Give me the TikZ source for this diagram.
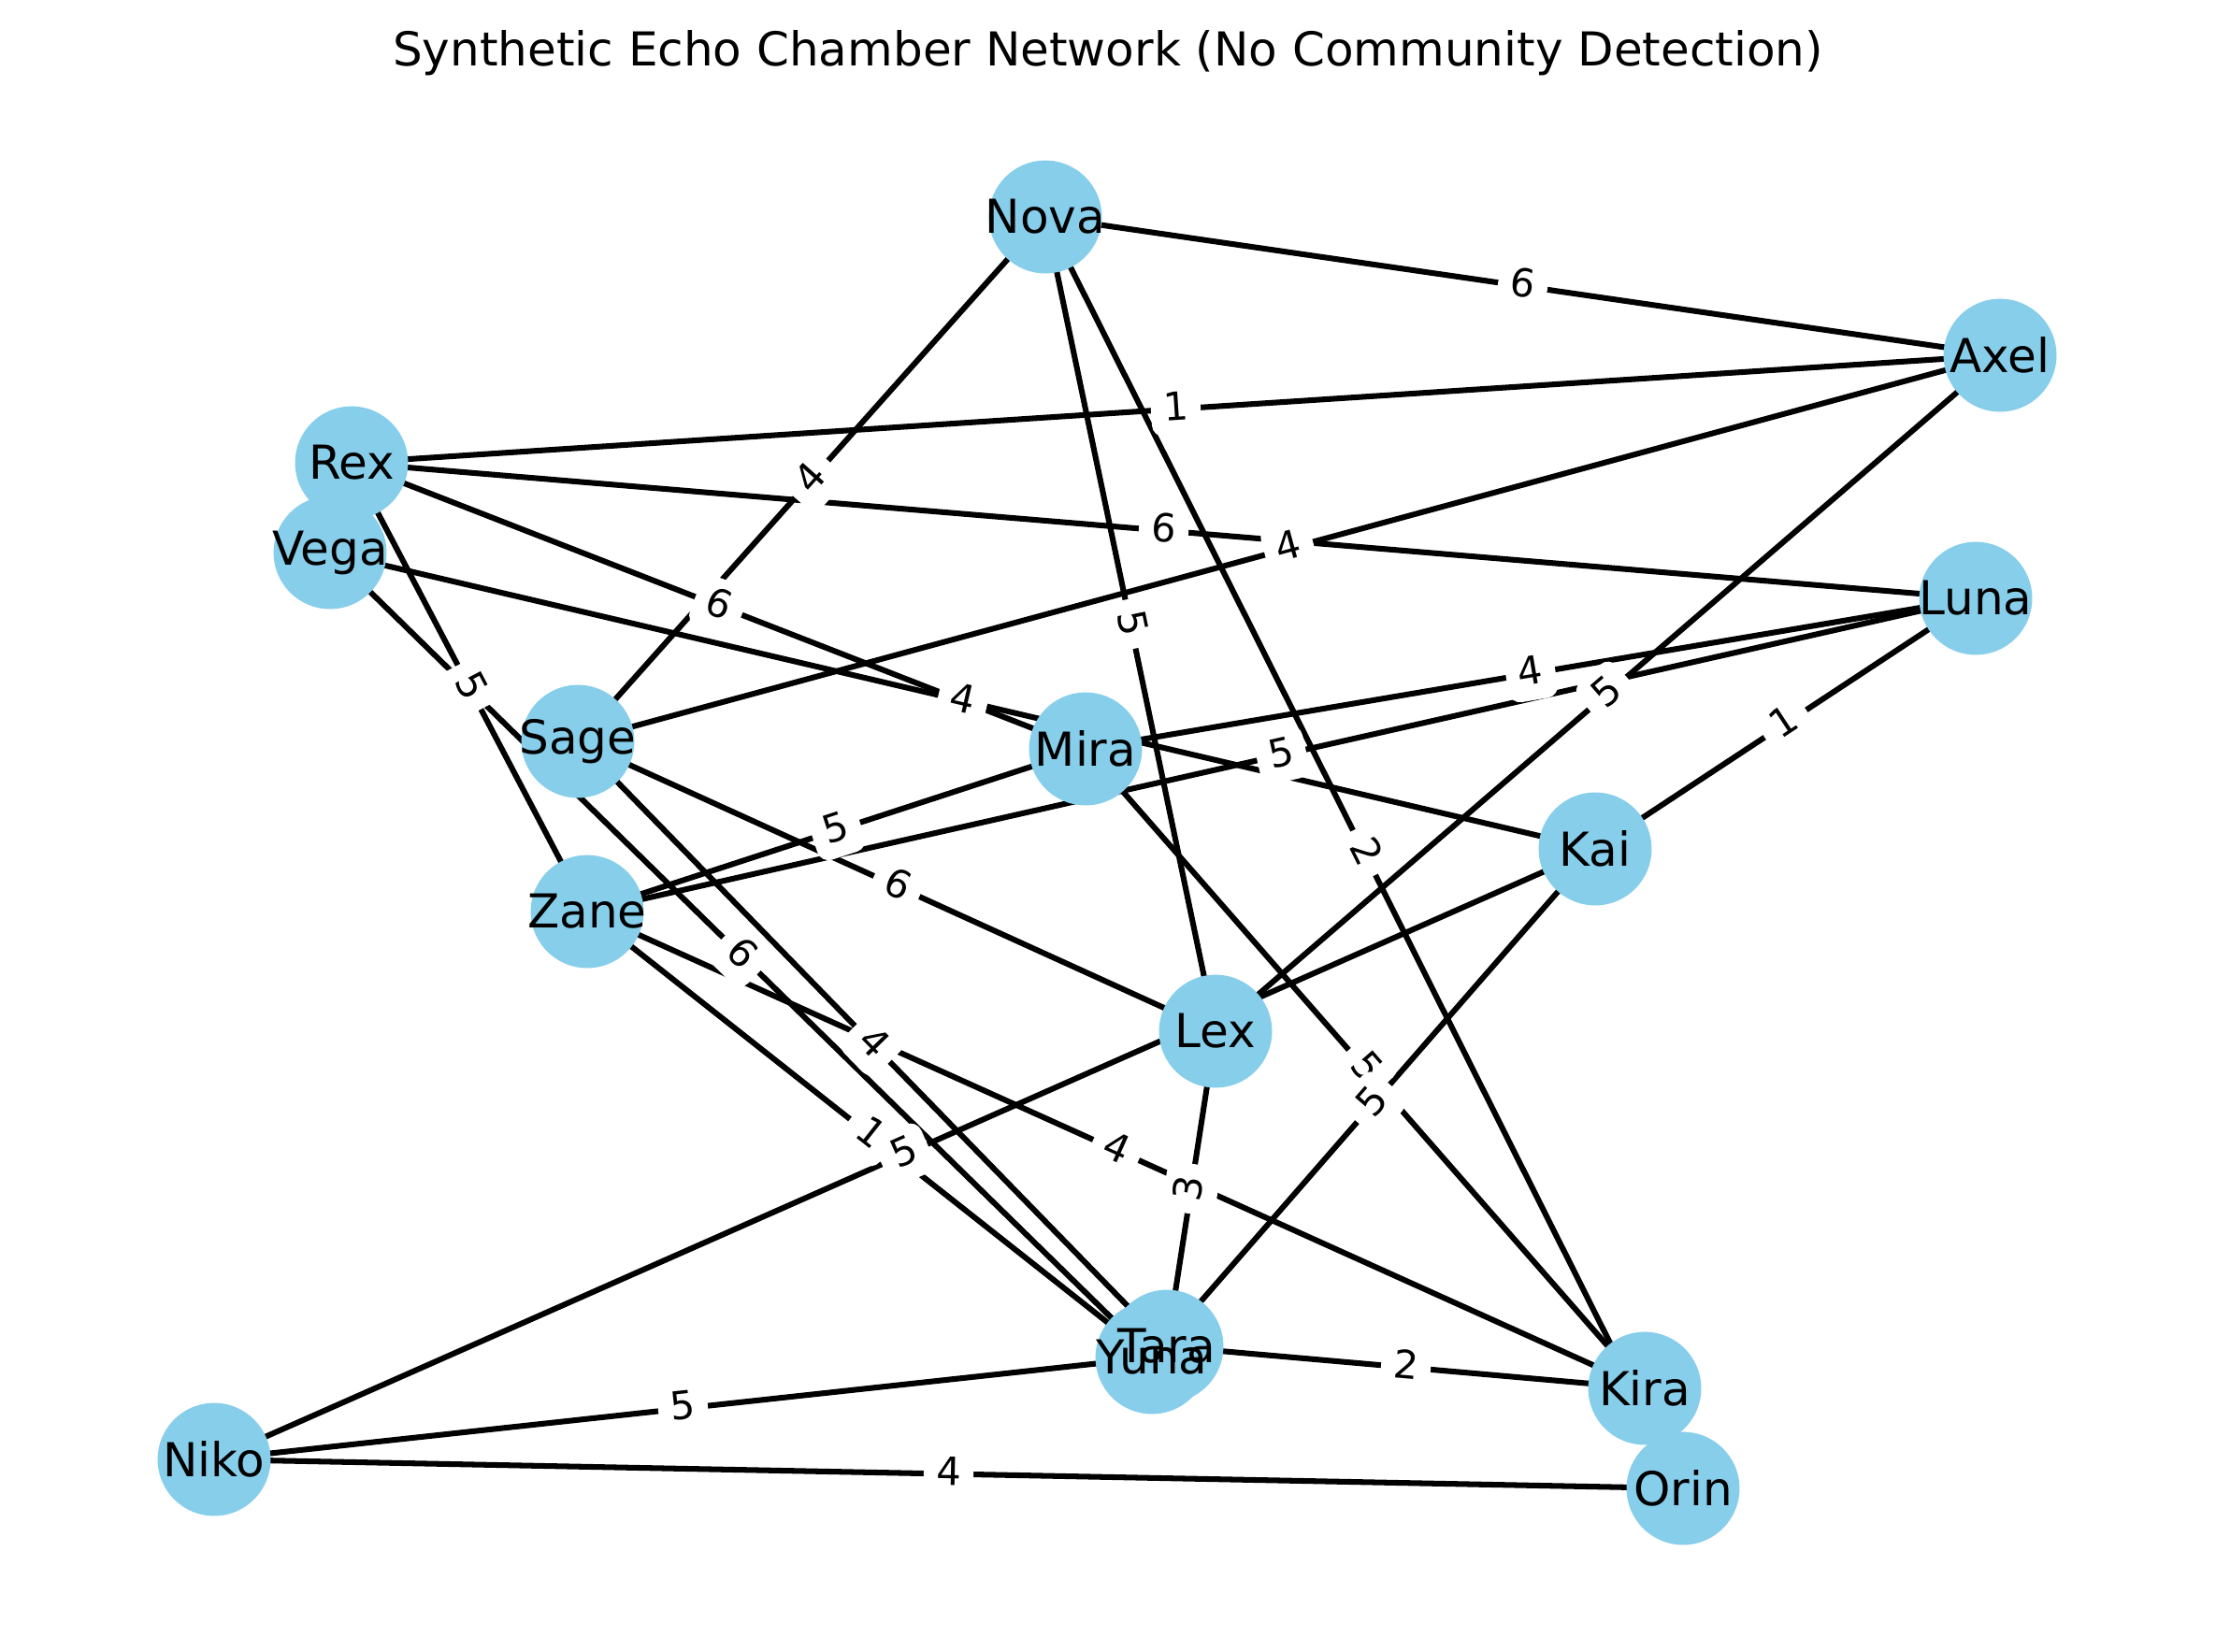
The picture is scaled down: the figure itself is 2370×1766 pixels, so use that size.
\documentclass[tikz,border=0pt]{standalone}
\usepackage{fontspec}
\setmainfont{DejaVu Sans}
\definecolor{nodeblue}{HTML}{87CEEB}
\pgfdeclarelayer{paperlayer}
\pgfdeclarelayer{edgelayer}
\pgfdeclarelayer{labellayer}
\pgfdeclarelayer{textlayer}
\pgfsetlayers{paperlayer,edgelayer,labellayer,main,textlayer}
\tikzset{
  person/.style={circle, fill=nodeblue, draw=none, minimum size=29pt, inner sep=0pt},
  nametext/.style={font=\fontsize{12}{14}\selectfont, text=black, inner sep=0pt},
  edgeline/.style={draw=black, line width=1.45pt},
  elabel/.style={fill=white, draw=none, rounded corners=3pt, inner xsep=3.2pt, inner ysep=2.4pt,
    text height=7.3pt, text depth=1.6pt, font=\fontsize{10}{12}\selectfont, text=black},
  titletext/.style={font=\fontsize{12}{14}\selectfont, text=black}
}
\newcommand\netedge[3]{%
  \begin{pgfonlayer}{edgelayer}\draw[edgeline] (#1.center) -- (#2.center);\end{pgfonlayer}%
  \begin{pgfonlayer}{labellayer}\path (#1.center) -- (#2.center) node[elabel, midway, sloped]{#3};\end{pgfonlayer}}
\newcommand\person[2]{%
  \node[person] (#1) at (#2) {};%
  \begin{pgfonlayer}{textlayer}\node[nametext] (#1-name) at (#1.center) {#1};\end{pgfonlayer}}
\begin{document}
\begin{tikzpicture}[x=0.24pt, y=-0.24pt]
\begin{pgfonlayer}{paperlayer}
\fill[white] (0,0) rectangle (2370,1766);
\end{pgfonlayer}
\path[use as bounding box] (0,0) rectangle (2370,1766);
\node[titletext] (title) at (1185,57) {Synthetic Echo Chamber Network (No Community Detection)};
\person{Nova}{1118,232}
\person{Axel}{2139,380}
\person{Rex}{376,495}
\person{Vega}{353,591}
\person{Luna}{2113,640}
\person{Sage}{618,793}
\person{Mira}{1161,801}
\person{Kai}{1706,908}
\person{Zane}{628,975}
\person{Lex}{1300,1103}
\person{Yuna}{1232,1452}
\person{Tara}{1248,1440}
\person{Kira}{1759,1485}
\person{Orin}{1800,1592}
\person{Niko}{229,1561}
\netedge{Nova}{Axel}{6}
\netedge{Rex}{Axel}{1}
\netedge{Rex}{Luna}{6}
\netedge{Sage}{Axel}{4}
\netedge{Nova}{Sage}{4}
\netedge{Rex}{Mira}{6}
\netedge{Vega}{Kai}{4}
\netedge{Rex}{Zane}{5}
\netedge{Vega}{Yuna}{6}
\netedge{Sage}{Lex}{6}
\netedge{Sage}{Tara}{4}
\netedge{Zane}{Yuna}{1}
\netedge{Niko}{Kai}{5}
\netedge{Zane}{Kira}{4}
\netedge{Lex}{Tara}{3}
\netedge{Mira}{Kira}{5}
\netedge{Kai}{Yuna}{5}
\netedge{Tara}{Kira}{2}
\netedge{Niko}{Yuna}{5}
\netedge{Niko}{Orin}{4}
\netedge{Nova}{Lex}{5}
\netedge{Lex}{Axel}{5}
\netedge{Nova}{Orin}{2}
\netedge{Kai}{Luna}{1}
\netedge{Mira}{Luna}{4}
\netedge{Zane}{Luna}{5}
\netedge{Zane}{Mira}{5}
\end{tikzpicture}
\end{document}
